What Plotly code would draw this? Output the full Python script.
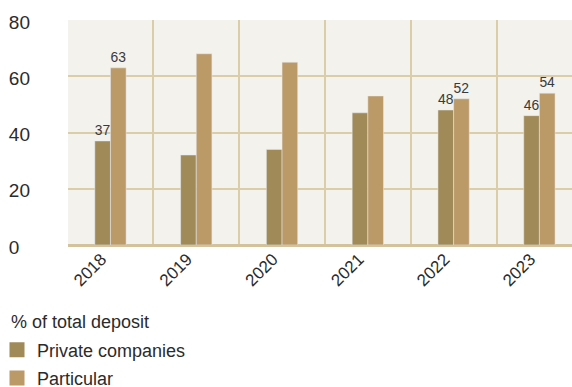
import plotly.graph_objects as go

years = ["2018", "2019", "2020", "2021", "2022", "2023"]
private_companies = [37, 32, 34, 47, 48, 46]
particular = [63, 68, 65, 53, 52, 54]
# value labels are only printed on some years
private_labels = ["37", "", "", "", "48", "46"]
particular_labels = ["63", "", "", "", "52", "54"]
y_ticks = [0, 20, 40, 60, 80]
y_ticktext = ["0\u2007", "20", "40", "60", "80"]

C_PRIVATE = "#a08a58"
C_PARTICULAR = "#bc9a68"
GRID = "#dccdaa"
FONT = "Liberation Sans"
TXT = "#2b2b2b"

fig = go.Figure()
fig.add_bar(x=years, y=private_companies, marker_color=C_PRIVATE,
            text=private_labels, textposition="outside", cliponaxis=False,
            textfont=dict(size=14, color="#3a3a3a", family=FONT),
            showlegend=False, name="Private companies")
fig.add_bar(x=years, y=particular, marker_color=C_PARTICULAR,
            text=particular_labels, textposition="outside", cliponaxis=False,
            textfont=dict(size=14, color="#3a3a3a", family=FONT),
            showlegend=False, name="Particular")

# legend entries with larger square swatches
for name, col in [("Private companies", C_PRIVATE), ("Particular", C_PARTICULAR)]:
    fig.add_scatter(x=[None], y=[None], mode="markers", name=name,
                    legendgroup=name,
                    marker=dict(symbol="square", size=15, color=col))

fig.update_layout(
    width=572, height=387,
    margin=dict(l=68, r=0, t=20, b=142, autoexpand=False),
    paper_bgcolor="white",
    plot_bgcolor="#f3f2ed",
    barmode="group",
    bargap=0.635,
    bargroupgap=0,
    font=dict(family=FONT, size=18, color=TXT),
    showlegend=True,
    legend=dict(
        orientation="v",
        xref="paper", x=-71 / 504, xanchor="left",
        yref="paper", y=-86.5 / 225, yanchor="top",
        font=dict(size=18, color=TXT), bgcolor="rgba(0,0,0,0)",
        itemwidth=30, tracegroupgap=2,
    ),
    annotations=[dict(
        text="% of total deposit", xref="paper", yref="paper",
        x=-59 / 504, y=-77 / 225, xanchor="left", yanchor="middle",
        showarrow=False, font=dict(size=18, color=TXT),
    )],
    xaxis=dict(
        type="category", range=[-0.495, 5.38], automargin=False,
        tickson="boundaries", showgrid=True, gridcolor=GRID, gridwidth=1.5,
        ticks="", tickangle=-45, tickfont=dict(size=17, color=TXT),
        ticklabelshift=-9,
        showline=False, zeroline=False,
    ),
    yaxis=dict(
        range=[0, 80], tickvals=y_ticks, ticktext=y_ticktext, automargin=False,
        showgrid=True, gridcolor=GRID, gridwidth=1.5,
        zeroline=True, zerolinecolor="#d4c29c", zerolinewidth=2.5,
        ticks="", ticklabelstandoff=37, ticklabelshift=2,
        tickfont=dict(size=19, color=TXT),
        showline=False,
    ),
)

fig.write_html("out.html")
